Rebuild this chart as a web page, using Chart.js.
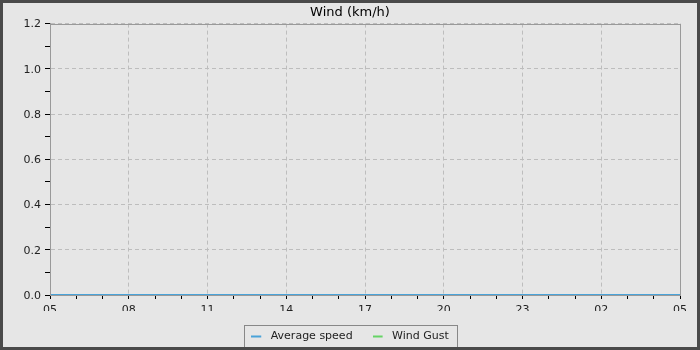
<!DOCTYPE html>
<html>
<head>
<meta charset="utf-8">
<script src="https://cdn.jsdelivr.net/npm/chart.js@4/dist/chart.umd.min.js"></script>
<style>
  html, body { margin: 0; padding: 0; background: #e6e6e6; }
  #wrap { width: 700px; height: 350px; position: relative; }
</style>
</head>
<body>
<div id="wrap"><canvas id="chart" width="700" height="350"></canvas></div>
<script>
const HOURS = ['05', '06', '07', '08', '09', '10', '11', '12', '13', '14', '15', '16', '17',
  '18', '19', '20', '21', '22', '23', '00', '01', '02', '03', '04', '05'];
const AVG_SPEED = [0, 0, 0, 0, 0, 0, 0, 0, 0, 0, 0, 0, 0, 0, 0, 0, 0, 0, 0, 0, 0, 0, 0, 0, 0];
const WIND_GUST = [0, 0, 0, 0, 0, 0, 0, 0, 0, 0, 0, 0, 0, 0, 0, 0, 0, 0, 0, 0, 0, 0, 0, 0, 0];

const BG = '#e6e6e6';
const FRAME = '#4a4a4a';
const GRID = '#bdbdbd';
const AXIS = '#999999';
const TEXT = '#222222';
const BLUE = '#4aa3d9';
const GREEN = '#66d466';
const FONT = 'DejaVu Sans';

// legend marker: short line on the left of a wider icon, leaves a gap before the text
function marker(color) {
  const c = document.createElement('canvas');
  c.width = 14;
  c.height = 4;
  const g = c.getContext('2d');
  g.fillStyle = color;
  g.fillRect(0, 1, 10, 2);
  return c;
}

const panel = {
  id: 'panel',
  afterLayout(chart) {
    // title and legend are centred on the whole canvas, not on the padded area
    [chart.titleBlock, chart.legend].forEach((b) => {
      if (b) { b.left += 10; b.right += 10; }
    });
  },
  beforeDraw(chart) {
    const { ctx, width, height } = chart;
    ctx.save();
    ctx.fillStyle = BG;
    ctx.fillRect(0, 0, width, height);
    ctx.restore();
  },
  afterDraw(chart) {
    const { ctx, width, height, chartArea: a } = chart;
    ctx.save();
    // plot frame
    ctx.strokeStyle = AXIS;
    ctx.lineWidth = 1;
    ctx.strokeRect(Math.round(a.left) + 0.5, Math.round(a.top) + 0.5,
      Math.round(a.right - a.left), Math.round(a.bottom - a.top));
    // legend box
    const boxes = chart.legend.legendHitBoxes;
    if (boxes && boxes.length) {
      const l = Math.min(...boxes.map((b) => b.left)) - 7;
      const r = Math.max(...boxes.map((b) => b.left + b.width)) + 8;
      const t = Math.min(...boxes.map((b) => b.top)) - 6;
      const btm = Math.max(...boxes.map((b) => b.top + b.height)) + 5;
      ctx.strokeStyle = '#888';
      ctx.strokeRect(Math.round(l) + 0.5, Math.round(t) + 0.5, Math.round(r - l), Math.round(btm - t));
    }
    // outer frame
    ctx.strokeStyle = FRAME;
    ctx.lineWidth = 3;
    ctx.strokeRect(1.5, 1.5, width - 3, height - 3);
    ctx.restore();
  },
};

new Chart(document.getElementById('chart'), {
  type: 'line',
  data: {
    labels: HOURS,
    datasets: [
      {
        label: 'Average speed',
        data: AVG_SPEED,
        borderColor: BLUE,
        backgroundColor: BLUE,
        borderWidth: 2,
        pointRadius: 0,
        pointStyle: marker(BLUE),
        clip: false,
      },
      {
        label: 'Wind Gust',
        data: WIND_GUST,
        borderColor: GREEN,
        backgroundColor: GREEN,
        borderWidth: 2,
        pointRadius: 0,
        pointStyle: marker(GREEN),
        clip: false,
      },
    ],
  },
  options: {
    responsive: false,
    animation: false,
    events: [],
    layout: { padding: { left: 0, right: 20, top: 0, bottom: -2 } },
    plugins: {
      title: {
        display: true,
        text: 'Wind (km/h)',
        color: '#000',
        font: { family: FONT, size: 13, weight: 'normal' },
        padding: { top: 5, bottom: 3 },
      },
      legend: {
        position: 'bottom',
        labels: {
          usePointStyle: true,
          pointStyleWidth: 14,
          color: TEXT,
          padding: 20,
          font: { family: FONT, size: 11 },
        },
      },
      tooltip: { enabled: false },
    },
    scales: {
      x: {
        offset: false,
        grid: {
          color: (c) => (c.index % 3 === 0 ? GRID : 'transparent'),
          tickColor: '#000',
          tickLength: 4,
          tickBorderDash: [],
          offset: false,
        },
        border: { color: AXIS, dash: [4, 3] },
        ticks: {
          autoSkip: false,
          maxRotation: 0,
          padding: 5,
          color: TEXT,
          font: { family: FONT, size: 11 },
          callback: (v, i) => (i % 3 === 0 ? HOURS[i] : ''),
        },
        afterFit: (s) => { s.height = 16; },
      },
      y: {
        min: 0,
        max: 1.2,
        grid: {
          color: (c) => (Math.round(c.tick.value * 10) % 2 === 0 ? GRID : 'transparent'),
          tickColor: '#000',
          tickLength: 5,
          tickBorderDash: [],
        },
        border: { color: AXIS, dash: [4, 3] },
        ticks: {
          stepSize: 0.1,
          padding: 4,
          labelOffset: 1,
          color: TEXT,
          font: { family: FONT, size: 11 },
          callback: (v) => (Math.round(v * 10) % 2 === 0 ? v.toFixed(1) : ''),
        },
        afterFit: (s) => { s.width = 50; },
      },
    },
  },
  plugins: [panel],
});
</script>
</body>
</html>
